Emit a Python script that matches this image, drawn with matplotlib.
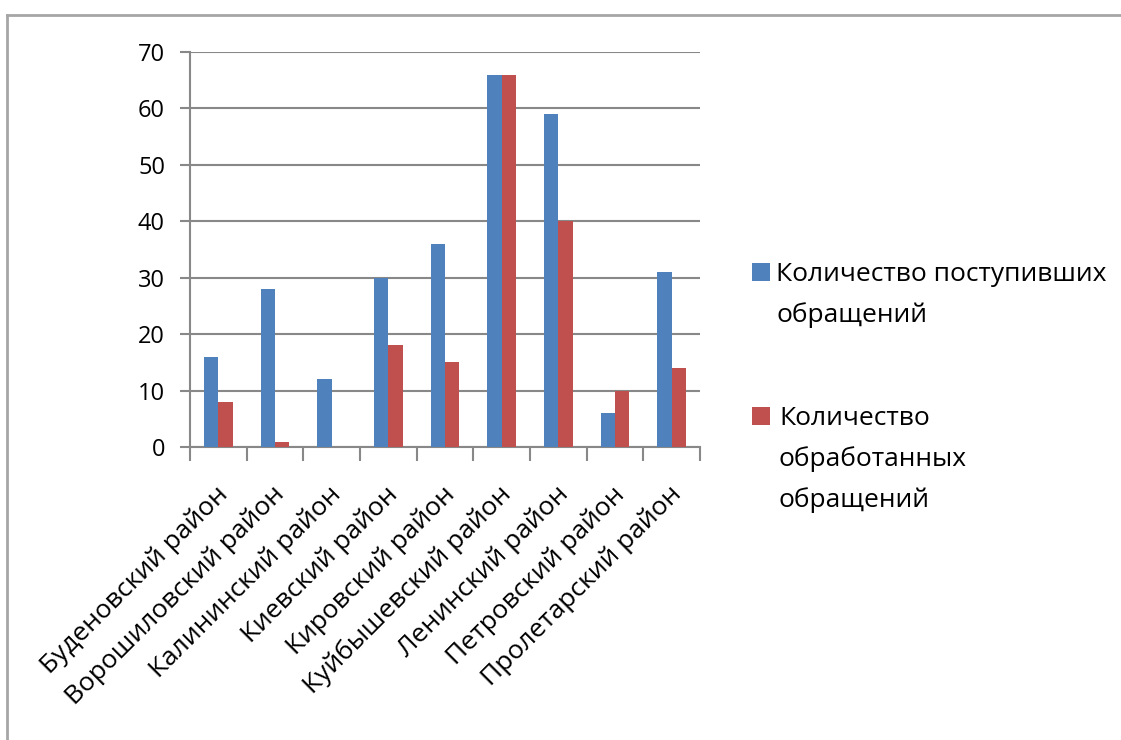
import matplotlib
matplotlib.use("Agg")
import matplotlib.pyplot as plt
from matplotlib.patches import Rectangle
from matplotlib.lines import Line2D
import matplotlib.transforms as mtransforms
import numpy as np

plt.rcParams['font.family'] = ['Open Sans', 'DejaVu Sans']

categories = ["Буденовский район", "Ворошиловский район", "Калининский район",
              "Киевский район", "Кировский район", "Куйбышевский район",
              "Ленинский район", "Петровский район", "Пролетарский район"]
received = [16, 28, 12, 30, 36, 66, 59, 6, 31]
processed = [8, 0.8, 0, 18, 15, 66, 40, 10, 14]
series_names = ["Количество поступивших\nобращений", "Количество\nобработанных\nобращений"]
yticks = [0, 10, 20, 30, 40, 50, 60, 70]

blue = "#4f81bd"
red = "#c0504d"
grid = "#888888"

W, H = 1121, 740
fig = plt.figure(figsize=(W / 100, H / 100), dpi=100)

# outer frame (top and left edges only)
fig.add_artist(Line2D([7 / W, 1], [1 - 15 / H, 1 - 15 / H], transform=fig.transFigure,
                      color="#a6a6a6", linewidth=2))
fig.add_artist(Line2D([7 / W, 7 / W], [0, 1 - 15 / H], transform=fig.transFigure,
                      color="#a6a6a6", linewidth=2))

ax = fig.add_axes([190 / W, 1 - 447 / H, (700 - 190) / W, (447 - 52) / H])
x = np.arange(len(categories))
bw = 0.255
ax.bar(x - bw / 2, received, width=bw, color=blue, zorder=3)
ax.bar(x + bw / 2, processed, width=bw, color=red, zorder=3)

ax.set_xlim(-0.5, len(categories) - 0.5)
ax.set_ylim(0, 70)
ax.set_yticks(yticks)
ax.set_yticklabels([str(t) for t in yticks], fontsize=17)
ax.yaxis.grid(True, color=grid, linewidth=1.5, zorder=0)
ax.tick_params(axis='y', length=7, width=1.5, color=grid, pad=11)

ax.set_xticks(np.arange(len(categories) + 1) - 0.5)
ax.set_xticklabels([])
ax.tick_params(axis='x', length=10, width=1.5, color=grid)
ax.set_xticks(x, minor=True)
labels = ax.set_xticklabels(categories, minor=True, rotation=45, ha='right',
                            va='top', rotation_mode='anchor', fontsize=19)
ax.tick_params(axis='x', which='minor', length=0, pad=25)
off = mtransforms.ScaledTranslation(-3 / 100, 0, fig.dpi_scale_trans)
for lb in labels:
    lb.set_transform(lb.get_transform() + off)

for s in ['top', 'right']:
    ax.spines[s].set_visible(False)
for s in ['left', 'bottom']:
    ax.spines[s].set_color(grid)
    ax.spines[s].set_linewidth(1.5)

# legend (manual: square aligned with first text line)
legend_colors = [blue, red]
legend_top_px = [272, 416]
legend_text_x = [776, 779]
line_step = 41
for name, col, yc, tx in zip(series_names, legend_colors, legend_top_px, legend_text_x):
    fig.patches.append(Rectangle((752 / W, 1 - (yc + 9) / H), 18 / W, 18 / H,
                                 transform=fig.transFigure, facecolor=col,
                                 edgecolor='none'))
    for i, line in enumerate(name.split("\n")):
        fig.text(tx / W, 1 - (yc + 9 + i * line_step) / H, line, fontsize=19,
                 va='baseline', ha='left')

fig.savefig("out.png", dpi=100)
